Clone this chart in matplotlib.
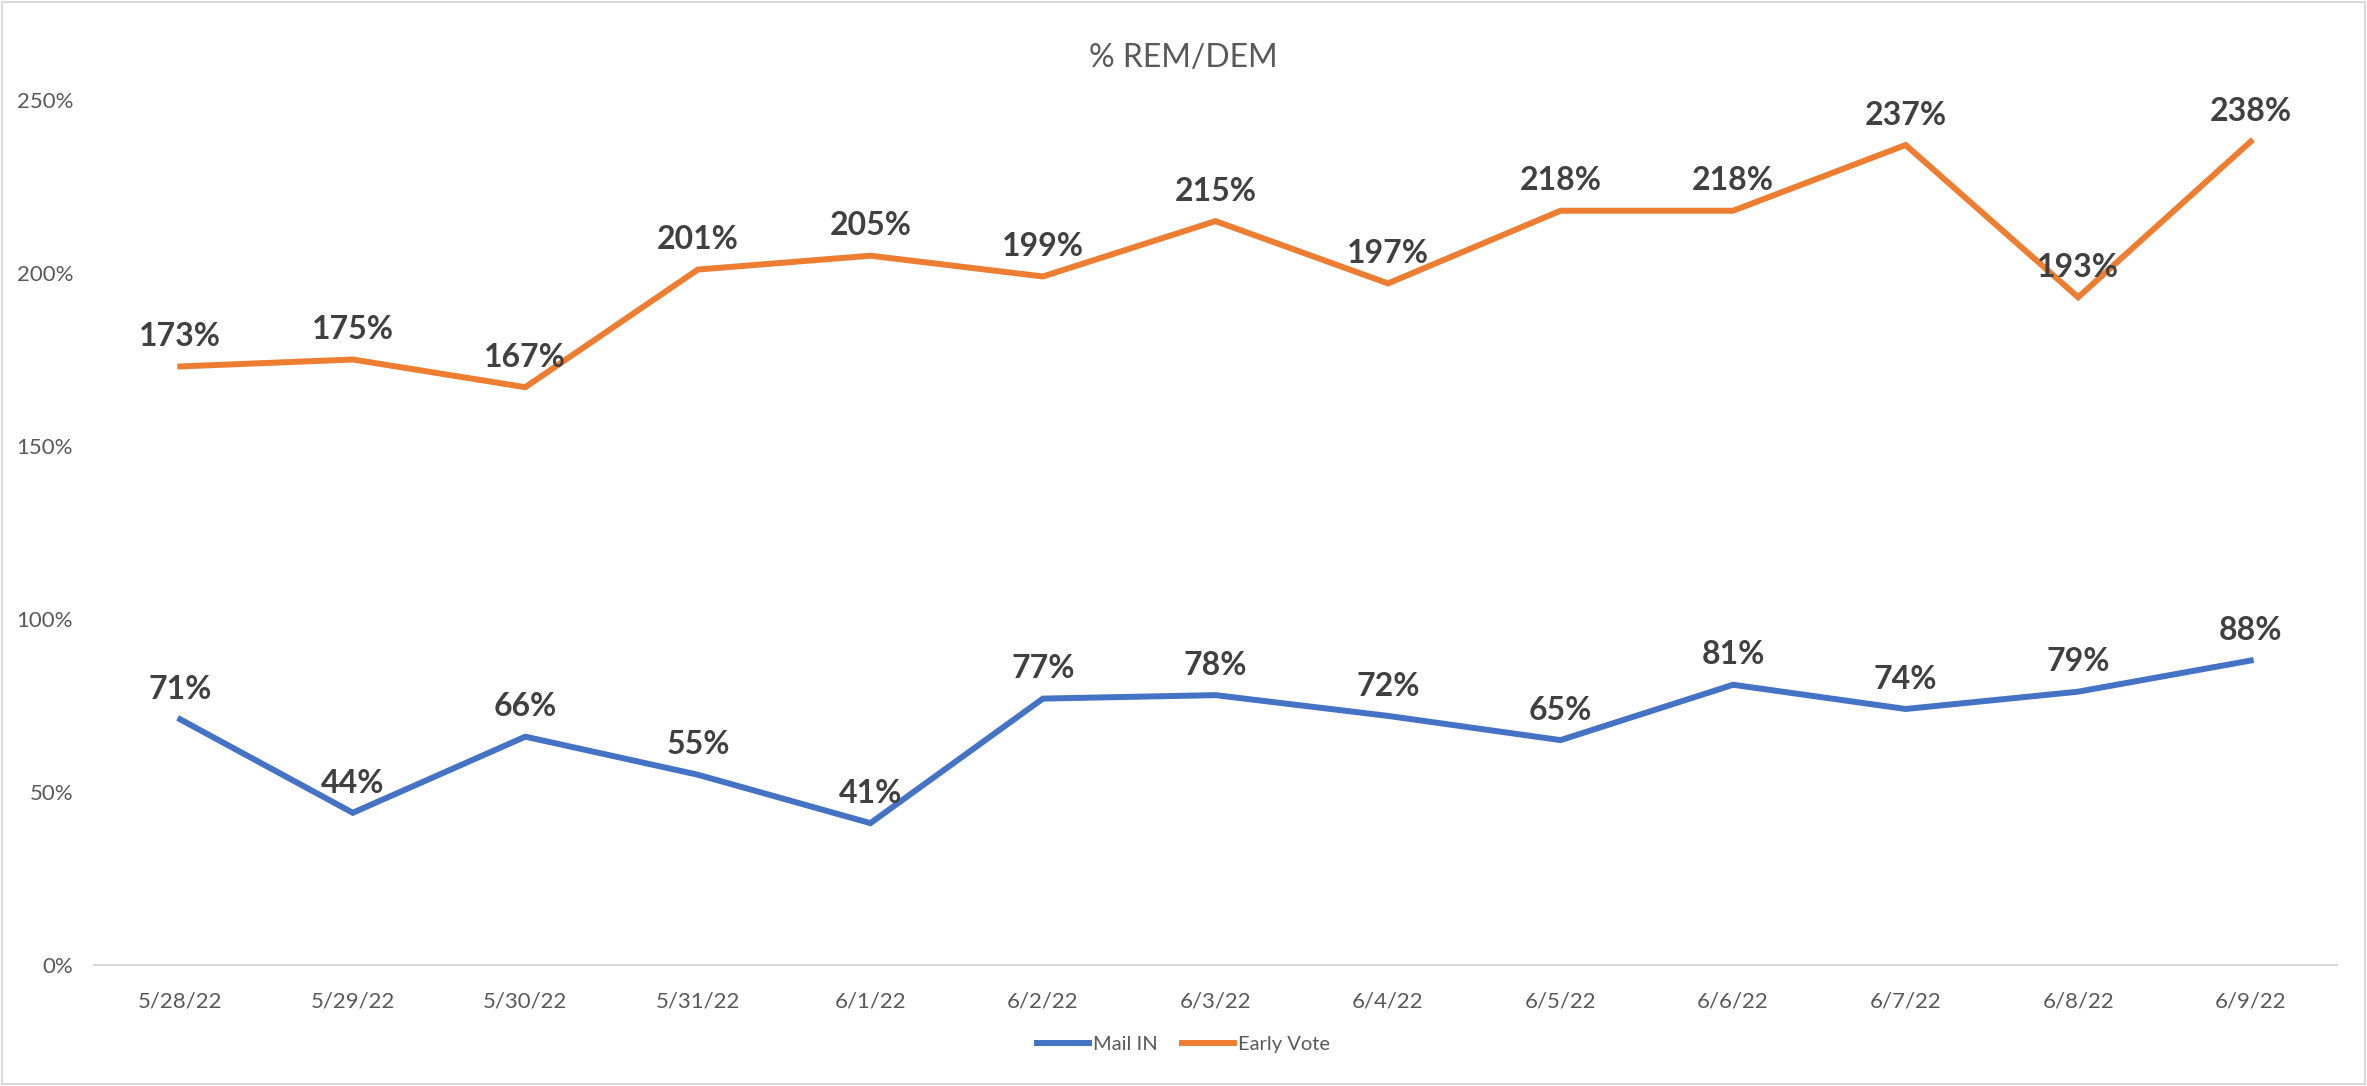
import matplotlib
matplotlib.use("Agg")
import matplotlib.pyplot as plt
from matplotlib.patches import Rectangle

dates = ["5/28/22", "5/29/22", "5/30/22", "5/31/22", "6/1/22", "6/2/22", "6/3/22",
         "6/4/22", "6/5/22", "6/6/22", "6/7/22", "6/8/22", "6/9/22"]
mail_in = [71, 44, 66, 55, 41, 77, 78, 72, 65, 81, 74, 79, 88]
early_vote = [173, 175, 167, 201, 205, 199, 215, 197, 218, 218, 237, 193, 238]
y_ticks = [0, 50, 100, 150, 200, 250]

plt.rcParams['font.family'] = ['Lato', 'DejaVu Sans']

fig = plt.figure(figsize=(23.67, 10.86), dpi=100)
ax = fig.add_axes([0.0397, 0.1114, 0.9476, 0.7965])

x = list(range(len(dates)))
l1, = ax.plot(x, mail_in, color='#4472C4', lw=4.3, solid_joinstyle='miter', label='Mail IN')
l2, = ax.plot(x, early_vote, color='#ED7D31', lw=4.3, solid_joinstyle='miter', label='Early Vote')

for series in (mail_in, early_vote):
    for xi, v in zip(x, series):
        ax.annotate(f"{v}%", (xi, v), xytext=(0, 11), textcoords='offset points',
                    ha='center', va='bottom', fontsize=23, fontweight='bold', color='#404040')

ax.set_xlim(-0.5, len(dates) - 0.5)
ax.set_ylim(0, 250)
ax.set_yticks(y_ticks)
ax.set_yticklabels([f"{t}%" for t in y_ticks])
ax.set_xticks(x)
ax.set_xticklabels(dates)
ax.tick_params(axis='both', length=0, labelsize=16, labelcolor='#595959')
ax.tick_params(axis='x', pad=19)
ax.tick_params(axis='y', pad=15)

for s in ['top', 'right', 'left']:
    ax.spines[s].set_visible(False)
ax.spines['bottom'].set_color('#D9D9D9')
ax.spines['bottom'].set_linewidth(1.5)

fig.suptitle("% REM/DEM", y=0.96, fontsize=23, color='#595959')

fig.legend(handles=[l1, l2], loc='center', bbox_to_anchor=(0.5, 0.038), ncol=2,
           frameon=False, fontsize=14.5, labelcolor='#595959', handlelength=2.6,
           handletextpad=0.2, columnspacing=1.2)

fig.patches.append(Rectangle((0.001, 0.002), 0.998, 0.996, transform=fig.transFigure,
                             fill=False, edgecolor='#D9D9D9', lw=1.5))

fig.savefig("out.png", dpi=100)
